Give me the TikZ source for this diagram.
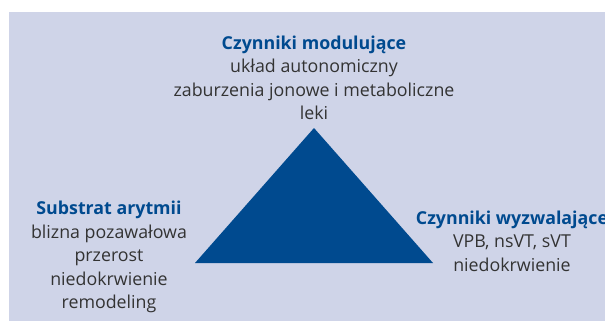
\documentclass[tikz,border=0pt]{standalone}
\usepackage{fontspec}
\setmainfont{Open Sans}
\definecolor{tlo}{HTML}{CFD4E8}
\definecolor{niebieski}{HTML}{004A8F}
\definecolor{tekst}{HTML}{333333}
\tikzset{
  opis/.style={align=center, text=tekst, inner sep=0pt,
    font=\fontsize{17.8}{23.5}\selectfont}
}
\begin{document}
\begin{tikzpicture}[x=1pt, y=-1pt]
\useasboundingbox (0,0) rectangle (605,321);
\fill[tlo] (9,12) rectangle (605,321);
% trojkat
\coordinate (szczyt) at (314,128);
\coordinate (lewy) at (195,263);
\coordinate (prawy) at (433,263);
\fill[niebieski] (szczyt) -- (lewy) -- (prawy) -- cycle;
% opisy
\node[opis] (mod) at (314,78) {\textcolor{niebieski}{\bfseries Czynniki modulujące}\\
  układ autonomiczny\\ zaburzenia jonowe i metaboliczne\\ leki};
\node[opis] (sub) at (109,257) {\textcolor{niebieski}{\bfseries Substrat arytmii}\\
  blizna pozawałowa\\ przerost\\ niedokrwienie\\ remodeling};
\node[opis] (wyz) at (512,241) {\textcolor{niebieski}{\bfseries Czynniki wyzwalające}\\
  VPB, nsVT, sVT\\ niedokrwienie};
\end{tikzpicture}
\end{document}
